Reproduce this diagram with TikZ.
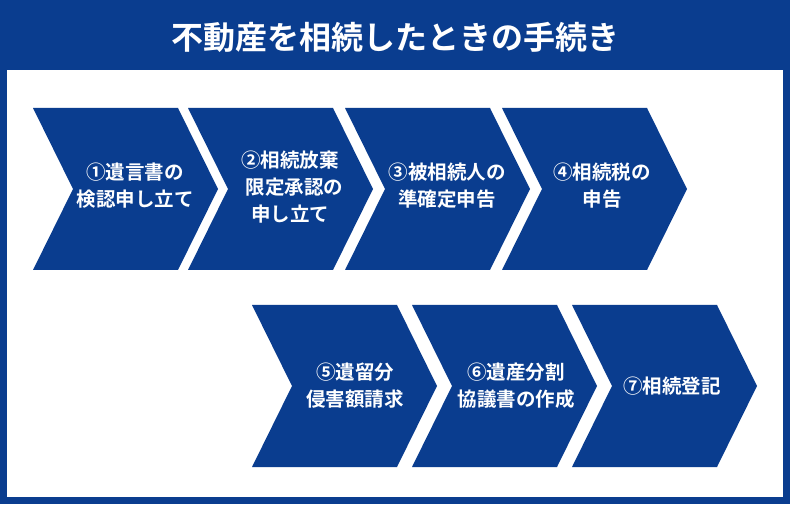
\documentclass[tikz,border=0pt]{standalone}
\usepackage{fontspec}
\newfontfamily\jpfont{Noto Sans CJK JP}[BoldFont={* Bold}]
\usepackage{tikz}
\definecolor{navyblue}{HTML}{0A3D8F}
\tikzset{
  steptext/.style={text=white, font=\jpfont\bfseries\fontsize{19.5}{27}\selectfont, align=center},
}
% chevron: #1 = left x, #2 = centre y
\newcommand{\chevron}[2]{%
  \fill[navyblue] (#1,#2+81) -- (#1+145,#2+81) -- (#1+185,#2) -- (#1+145,#2-81)
    -- (#1,#2-81) -- (#1+40,#2) -- cycle;}
\begin{document}
\begin{tikzpicture}[x=1pt,y=1pt]
  \useasboundingbox (0,0) rectangle (790,504);
  \fill[navyblue] (0,0) rectangle (790,504);
  \fill[white] (7,7) rectangle (783,434);
  \node[text=white, font=\jpfont\bfseries\fontsize{32}{36}\selectfont] (title) at (395,467) {不動産を相続したときの手続き};

  \chevron{33}{315}
  \chevron{188}{315}
  \chevron{345}{315}
  \chevron{502}{315}
  \chevron{252}{118}
  \chevron{412}{118}
  \chevron{572}{118}

  \node[steptext] (s1) at (135,318) {①遺言書の\\検認申し立て};
  \node[steptext] (s2) at (290,317) {②相続放棄\\\ \ 限定承認の\\申し立て};
  \node[steptext] (s3) at (447,318) {③被相続人の\\準確定申告};
  \node[steptext] (s4) at (602,318) {④相続税の\\申告};
  \node[steptext] (s5) at (355,118) {⑤遺留分\\侵害額請求};
  \node[steptext] (s6) at (516,118) {⑥遺産分割\\協議書の作成};
  \node[steptext] (s7) at (672,118) {⑦相続登記};
\end{tikzpicture}
\end{document}
